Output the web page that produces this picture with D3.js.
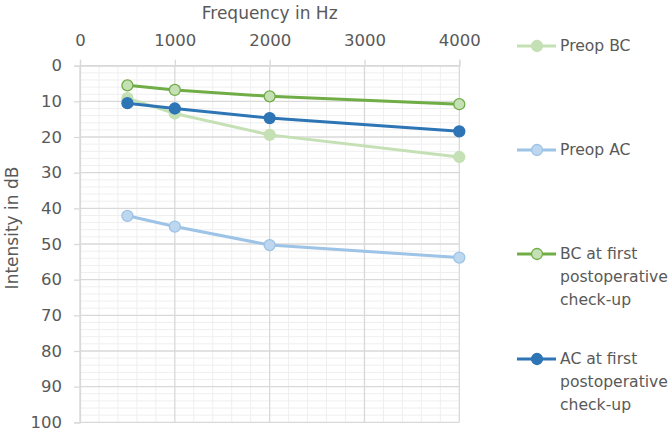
<!DOCTYPE html>
<html><head><meta charset="utf-8">
<script src="https://cdn.jsdelivr.net/npm/d3@7"></script>
<style>
body{margin:0;background:#fff;}
svg{display:block;font-family:"DejaVu Sans",Verdana,sans-serif;}
</style></head>
<body><svg id="c" width="670" height="432"></svg>
<script>
const frequencies = [500, 1000, 2000, 4000];
const preopBC = [9.1, 13.4, 19.4, 25.6];
const preopAC = [42.1, 45.1, 50.3, 53.8];
const postBC = [5.5, 6.8, 8.6, 10.8];
const postAC = [10.5, 12.0, 14.7, 18.4];
const xTicks = [0, 1000, 2000, 3000, 4000];
const yTicks = [0, 10, 20, 30, 40, 50, 60, 70, 80, 90, 100];
const seriesNames = [["Preop BC"], ["Preop AC"], ["BC at first", "postoperative", "check-up"], ["AC at first", "postoperative", "check-up"]];

const series = [
  {name: seriesNames[0], values: preopBC, line: "#c5e0b4", fill: "#c5e0b4", stroke: "#c5e0b4", ly: 46},
  {name: seriesNames[1], values: preopAC, line: "#9dc3e6", fill: "#bdd7ee", stroke: "#9dc3e6", ly: 150},
  {name: seriesNames[2], values: postBC, line: "#70ad47", fill: "#c5e0b4", stroke: "#70ad47", ly: 254},
  {name: seriesNames[3], values: postAC, line: "#2e75b6", fill: "#2e75b6", stroke: "#2e75b6", ly: 359}
];

const svg = d3.select("#c");
const x = d3.scaleLinear().domain([0, 4000]).range([80, 459.3]);
const y = d3.scaleLinear().domain([0, 100]).range([65.7, 422.3]);

const g = svg.append("g");
g.selectAll(".vmin").data(d3.range(200, 4000, 200).filter(v => v % 1000 !== 0)).join("line")
  .attr("x1", d => x(d)).attr("x2", d => x(d)).attr("y1", y(0)).attr("y2", y(100))
  .attr("stroke", "#efefef").attr("stroke-width", 1);
g.selectAll(".hmin").data(d3.range(2, 100, 2).filter(v => v % 10 !== 0)).join("line")
  .attr("y1", d => y(d)).attr("y2", d => y(d)).attr("x1", x(0)).attr("x2", x(4000))
  .attr("stroke", "#efefef").attr("stroke-width", 1);
g.selectAll(".vmaj").data(xTicks).join("line")
  .attr("x1", d => x(d)).attr("x2", d => x(d)).attr("y1", y(0)).attr("y2", y(100))
  .attr("stroke", "#d9d9d9").attr("stroke-width", 1.3);
g.selectAll(".hmaj").data(yTicks).join("line")
  .attr("y1", d => y(d)).attr("y2", d => y(d)).attr("x1", x(0)).attr("x2", x(4000))
  .attr("stroke", "#d9d9d9").attr("stroke-width", 1.3);

const xAxis = d3.axisTop(x).tickValues(xTicks).tickSize(6).tickPadding(14).tickFormat(d3.format("d"));
const gx = svg.append("g").attr("transform", `translate(0,${y(0)})`).call(xAxis);
gx.select(".domain").attr("stroke", "#d9d9d9").attr("stroke-width", 1.3);
gx.selectAll(".tick line").attr("stroke", "#d9d9d9").attr("stroke-width", 1.3);
gx.selectAll(".tick text").attr("fill", "#595959").attr("font-size", 16.5).attr("font-family", "DejaVu Sans");

const yAxis = d3.axisLeft(y).tickValues(yTicks).tickSize(6).tickPadding(12);
const gy = svg.append("g").attr("transform", `translate(${x(0)},0)`).call(yAxis);
gy.select(".domain").attr("stroke", "#d9d9d9").attr("stroke-width", 1.3);
gy.selectAll(".tick line").attr("stroke", "#d9d9d9").attr("stroke-width", 1.3);
gy.selectAll(".tick text").attr("fill", "#595959").attr("font-size", 16.5).attr("font-family", "DejaVu Sans");

svg.append("text").attr("x", x(2000)).attr("y", 19).attr("text-anchor", "middle")
  .attr("fill", "#595959").attr("font-size", 17).text("Frequency in Hz");
svg.append("text").attr("transform", `translate(18,${228}) rotate(-90)`).attr("text-anchor", "middle")
  .attr("fill", "#595959").attr("font-size", 17).text("Intensity in dB");

const line = d3.line().x((d, i) => x(frequencies[i])).y(d => y(d));
series.forEach(s => {
  svg.append("path").attr("d", line(s.values)).attr("fill", "none")
    .attr("stroke", s.line).attr("stroke-width", 3).attr("stroke-linejoin", "round");
  svg.selectAll(null).data(s.values).join("circle")
    .attr("cx", (d, i) => x(frequencies[i])).attr("cy", d => y(d)).attr("r", 5.5)
    .attr("fill", s.fill).attr("stroke", s.stroke).attr("stroke-width", 1.3);
});

series.forEach(s => {
  const lg = svg.append("g");
  lg.append("line").attr("x1", 517).attr("x2", 556).attr("y1", s.ly).attr("y2", s.ly)
    .attr("stroke", s.line).attr("stroke-width", 3);
  lg.append("circle").attr("cx", 537).attr("cy", s.ly).attr("r", 5.5)
    .attr("fill", s.fill).attr("stroke", s.stroke).attr("stroke-width", 1.3);
  s.name.forEach((t, i) => {
    lg.append("text").attr("x", 560).attr("y", s.ly + i * 23).attr("dy", "0.35em")
      .attr("fill", "#595959").attr("font-size", 15.6).text(t);
  });
});
</script></body></html>
